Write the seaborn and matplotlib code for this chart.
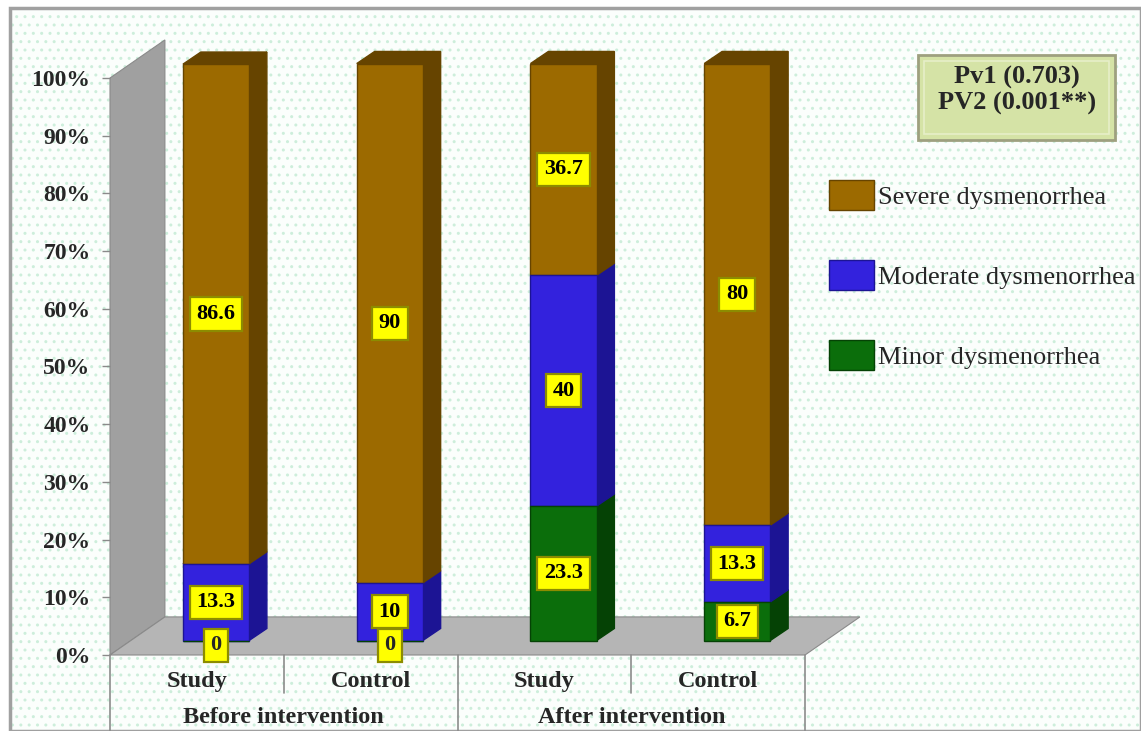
import matplotlib
matplotlib.use("Agg")
import numpy as np
import pandas as pd
import matplotlib.pyplot as plt
from matplotlib.patches import Polygon, Rectangle
from matplotlib.transforms import blended_transform_factory
import seaborn as sns

# ---- data ----
slots = ["before_study", "before_control", "after_study", "after_control"]
group_labels = ["Study", "Control", "Study", "Control"]
periods = ["Before intervention", "After intervention"]
minor = [0, 0, 23.3, 6.7]
moderate = [13.3, 10, 40, 13.3]
severe = [86.6, 90, 36.7, 80]
series_names = ["Severe dysmenorrhea", "Moderate dysmenorrhea", "Minor dysmenorrhea"]
y_ticks = [0, 10, 20, 30, 40, 50, 60, 70, 80, 90, 100]
pv_lines = ["Pv1 (0.703)", "PV2 (0.001**)"]

W, H = 1141, 731
BASE = 2.5          # bars stand a little back on the 3D floor
SHIFT = 0.11        # bars sit right of the category centre
DX, DY = 0.103, 2.1  # depth of the fake 3D faces (data units)

colors = {
    "severe": ("#9c6a00", "#664400"),
    "moderate": ("#3322dd", "#1c1494"),
    "minor": ("#0b6e0b", "#054205"),
}
label_box = dict(boxstyle="square,pad=0.3", facecolor="#ffff00",
                 edgecolor="#8c8c00", linewidth=1.6)

df = pd.DataFrame({"slot": slots, "minor": minor, "moderate": moderate, "severe": severe})
df["total"] = df["minor"] + df["moderate"] + df["severe"]
df["lower2"] = df["minor"] + df["moderate"]

sns.set_style("white")
plt.rcParams["font.family"] = ["Liberation Serif", "DejaVu Serif"]

fig = plt.figure(figsize=(W / 100, H / 100), dpi=100)
fig.patch.set_facecolor("white")
fig.patches.append(Rectangle((10 / W, 0), 1 - 10 / W, 1 - 8 / H, transform=fig.transFigure,
                             facecolor="#fbfefc", edgecolor="#cdeedb", hatch="..",
                             linewidth=0, zorder=-10))
fig.patches.append(Rectangle((10 / W, 0), 1 - 10 / W, 1 - 8 / H, transform=fig.transFigure,
                             fill=False, edgecolor="#a0a0a0", linewidth=2.5, zorder=-9))

ax = fig.add_axes([110 / W, 76 / H, 695 / W, 577 / H])
ax.patch.set_alpha(0)

# stacked bars, drawn as cumulative layers then set to their own segment
layers = [("total", "severe"), ("lower2", "moderate"), ("minor", "minor")]
conts = {}
for col, key in layers:
    sns.barplot(data=df, x="slot", y=col, order=slots, color=colors[key][0],
                width=0.38, errorbar=None, saturation=1, ax=ax, zorder=3)
    conts[key] = ax.containers[-1]

bottoms = {"minor": [0] * 4, "moderate": minor,
           "severe": [a + b for a, b in zip(minor, moderate)]}
heights = {"minor": minor, "moderate": moderate, "severe": severe}

for key in ["minor", "moderate", "severe"]:
    for i, p in enumerate(conts[key].patches):
        p.set_x(p.get_x() + SHIFT)
        p.set_y(BASE + bottoms[key][i])
        p.set_height(heights[key][i])
        p.set_edgecolor(colors[key][1])
        p.set_linewidth(1.0)
        p.set_clip_on(False)
        x, y, w, h = p.get_x(), p.get_y(), p.get_width(), p.get_height()
        if h <= 0:
            ax.text(x + w / 2, BASE - 0.8, "0", ha="center", va="center", fontsize=16,
                    fontweight="bold", zorder=6, bbox=label_box)
            continue
        side = Polygon([(x + w, y), (x + w + DX, y + DY), (x + w + DX, y + h + DY), (x + w, y + h)],
                       closed=True, facecolor=colors[key][1], edgecolor=colors[key][1],
                       zorder=2, clip_on=False)
        top = Polygon([(x, y + h), (x + w, y + h), (x + w + DX, y + h + DY), (x + DX, y + h + DY)],
                      closed=True, facecolor=colors[key][1], edgecolor=colors[key][1],
                      zorder=2, clip_on=False)
        ax.add_patch(side)
        ax.add_patch(top)
        ax.text(x + w / 2, y + h / 2, f"{heights[key][i]:g}", ha="center", va="center",
                fontsize=16, fontweight="bold", color="black", zorder=6, bbox=label_box)

# back wall and floor
wall_dx = 0.316
wall_dy = 6.6
ax.add_patch(Polygon([(-0.5, 0), (-0.5, 100), (-0.5 + wall_dx, 100 + wall_dy), (-0.5 + wall_dx, wall_dy)],
                     closed=True, facecolor="#a0a0a0", edgecolor="#8a8a8a", linewidth=0.8,
                     zorder=0, clip_on=False))
ax.add_patch(Polygon([(-0.5, 0), (3.5, 0), (3.5 + wall_dx, wall_dy), (-0.5 + wall_dx, wall_dy)],
                     closed=True, facecolor="#b5b5b5", edgecolor="#8a8a8a", linewidth=0.8,
                     zorder=1, clip_on=False))

ax.set_xlim(-0.5, 3.5)
ax.set_ylim(0, 100)
ax.set_yticks(y_ticks)
ax.set_yticklabels([f"{v}%" for v in y_ticks], fontsize=17, fontweight="bold")
ax.set_xticks([])
ax.set_xlabel("")
ax.set_ylabel("")
ax.tick_params(axis="y", left=True, direction="out", length=6, width=1, color="#8a8a8a", pad=8)
for s in ax.spines.values():
    s.set_visible(False)

# category table under the chart
tr = blended_transform_factory(ax.transData, ax.transAxes)
for xv in [0.5, 2.5]:
    ax.plot([xv, xv], [0, -0.066], transform=tr, color="#8c8c8c", lw=1.2, clip_on=False)
for xv in [-0.5, 1.5, 3.5]:
    ax.plot([xv, xv], [0, -0.135], transform=tr, color="#8c8c8c", lw=1.2, clip_on=False)
for i, g in enumerate(group_labels):
    ax.text(i, -0.046, g, transform=tr, ha="center", va="center", fontsize=17.5, fontweight="bold")
for j, per in enumerate(periods):
    ax.text(2 * j + 0.5, -0.109, per, transform=tr, ha="center", va="center",
            fontsize=17.5, fontweight="bold")

# legend
handles = [conts["severe"].patches[0], conts["moderate"].patches[0], conts["minor"].patches[0]]
fig.legend(handles, series_names, loc="upper left", bbox_to_anchor=(829 / W, 1 - 180 / H),
           frameon=False, fontsize=19, handlelength=1.7, handleheight=1.4,
           labelspacing=1.87, handletextpad=0.15, borderaxespad=0, borderpad=0)

# p-value box
fig.patches.append(Rectangle((918 / W, 1 - 140 / H), 197 / W, 85 / H, transform=fig.transFigure,
                             facecolor="#d5e3a6", edgecolor="#9ea07f", linewidth=2, zorder=2))
fig.patches.append(Rectangle((924 / W, 1 - 134 / H), 185 / W, 73 / H, transform=fig.transFigure,
                             facecolor="none", edgecolor="#e6efc8", linewidth=1.2, zorder=3))
fig.text(1017 / W, 1 - 77 / H, pv_lines[0], ha="center", va="center", fontsize=19, fontweight="bold")
fig.text(1017 / W, 1 - 103 / H, pv_lines[1], ha="center", va="center", fontsize=19, fontweight="bold")

fig.savefig("out.png", dpi=100)
